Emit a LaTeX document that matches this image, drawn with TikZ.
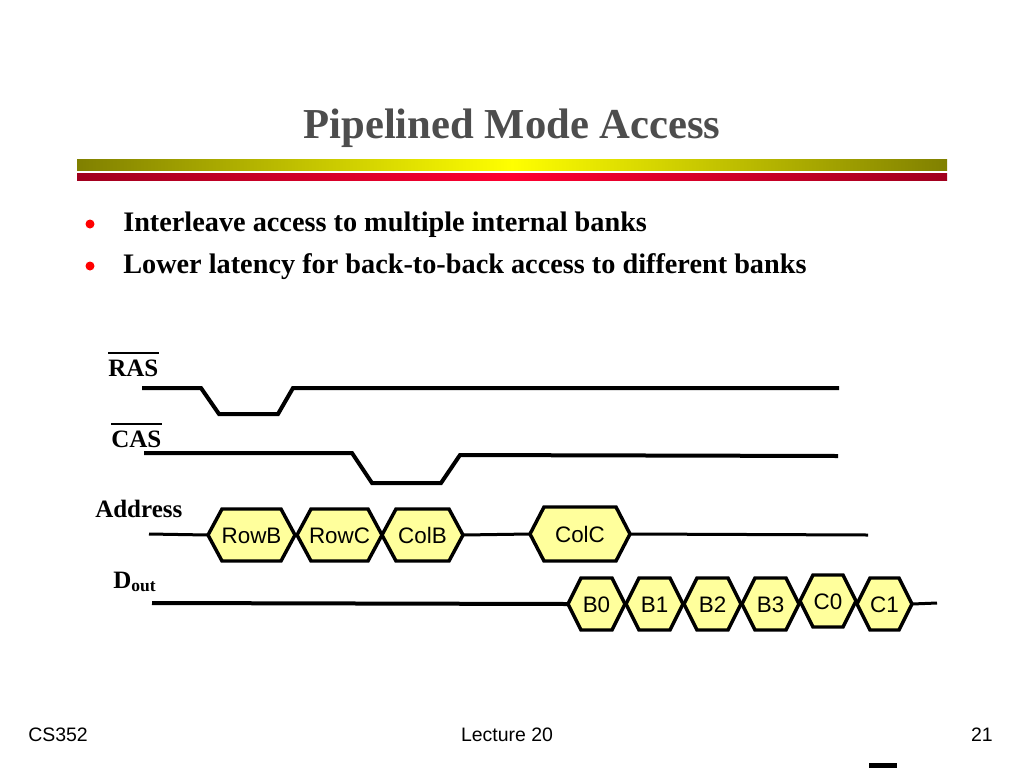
\documentclass[tikz,border=0pt]{standalone}
\usepackage{fontspec}
\setmainfont{Liberation Serif}
\setsansfont{Liberation Sans}
\usepackage{tikz}
\usetikzlibrary{calc}
\definecolor{barolive}{RGB}{128,128,0}
\definecolor{baryellow}{RGB}{255,255,0}
\definecolor{bardark}{RGB}{160,0,30}
\definecolor{barred}{RGB}{255,0,48}
\definecolor{hexfill}{RGB}{255,255,156}
\definecolor{titlegray}{RGB}{77,77,77}
\newcommand{\sigfont}{\fontsize{18.75}{22}\selectfont\bfseries}
\newcommand{\hexfont}{\fontsize{16.8}{20}\selectfont\sffamily}
% hexagon on a bus line: name, left tip, right tip, centre y, half height, tip offset, text
\newcommand{\bushex}[7]{%
	\draw[hexbox] (#2,#4) -- (#2+#6,#4-#5) -- (#3-#6,#4-#5) -- (#3,#4) -- (#3-#6,#4+#5) -- (#2+#6,#4+#5) -- cycle;
	\coordinate (#1-w) at (#2,#4);
	\coordinate (#1-e) at (#3,#4);
	\node[hextext] (#1) at ({(#2+#3)/2},#4+8) {#7};}

\begin{document}
\begin{tikzpicture}[x=0.75pt,y=-0.75pt,
	sig/.style={line width=3pt},
	bus/.style={line width=2.25pt},
	hexbox/.style={draw=black,fill=hexfill,line width=2.6pt,line join=miter},
	hextext/.style={inner sep=0pt,anchor=base,font=\hexfont},
	siglabel/.style={inner sep=0pt,anchor=base west,font=\sigfont},
	bar/.style={line width=1.5pt}]
	\useasboundingbox (0,0) rectangle (1024,768);
	% title and bars
	\node[anchor=base,text=titlegray,font=\fontsize{32}{36}\selectfont\bfseries] (title) at (512,138) {Pipelined Mode Access};
	\shade[left color=barolive,right color=barolive,middle color=baryellow] (77,159) rectangle (947,170);
	\shade[left color=bardark,right color=bardark,middle color=barred] (77,173) rectangle (947,180);
	% bullets
	\fill[red] (90,224) circle (4.5);
	\fill[red] (90,266) circle (4.5);
	\node[anchor=base west,inner sep=0pt,font=\fontsize{21.2}{25}\selectfont\bfseries] (item1) at (123,231) {Interleave access to multiple internal banks};
	\node[anchor=base west,inner sep=0pt,font=\fontsize{21.2}{25}\selectfont\bfseries] (item2) at (123,273) {Lower latency for back-to-back access to different banks};
	% signal names
	\node[siglabel] (ras) at (108,376) {RAS};
	\draw[bar] ([yshift=5pt]ras.north west) -- ([yshift=5pt]ras.north east);
	\node[siglabel] (cas) at (111,447) {CAS};
	\draw[bar] ([yshift=5pt]cas.north west) -- ([yshift=5pt]cas.north east);
	\node[siglabel] (addr) at (95,517) {Address};
	\node[siglabel] (dout) at (113,588) {D\textsubscript{out}};
	% RAS and CAS
	\draw[sig] (142,388) -- (201,388) -- (219,414) -- (278,414) -- (293,388) -- (839,388);
	\draw[sig] (144,453) -- (352,453) -- (372,483) -- (441,483) -- (460,455) -- (838,456);
	% address bus
	\coordinate (addr-start) at (149,534);
	\coordinate (addr-end) at (868,535);
	\bushex{rowb}{208}{295}{535}{26}{14}{RowB}
	\bushex{rowc}{297}{382}{535}{26}{14}{RowC}
	\bushex{colb}{382}{463}{535}{26}{14}{ColB}
	\bushex{colc}{530}{630}{534}{27}{14}{ColC}
	\draw[bus] (addr-start) -- (rowb-w);
	\draw[bus] (colb-e) -- (colc-w);
	\draw[bus] (colc-e) -- (addr-end);
	% data out
	\coordinate (dout-start) at (152,603);
	\coordinate (dout-end) at (937,603);
	\bushex{b0}{568}{625}{604}{26}{13}{B0}
	\bushex{b1}{626}{683}{604}{26}{13}{B1}
	\bushex{b2}{684}{741}{604}{26}{13}{B2}
	\bushex{b3}{742}{799}{604}{26}{13}{B3}
	\bushex{c0}{800}{856}{601}{26}{13}{C0}
	\bushex{c1}{857}{912}{604}{26}{13}{C1}
	\draw[sig] (dout-start) -- (b0-w);
	\draw[bus] (c1-e) -- (dout-end);
	% footer
	\node[anchor=base west,inner sep=0pt,font=\fontsize{14.6}{17}\selectfont\sffamily] (course) at (28,741) {CS352};
	\node[anchor=base,inner sep=0pt,font=\fontsize{14.6}{17}\selectfont\sffamily] (lecture) at (507,741) {Lecture 20};
	\node[anchor=base east,inner sep=0pt,font=\fontsize{14.6}{17}\selectfont\sffamily] (page) at (993,741) {21};
	\fill (869,763) rectangle (897,768);
\end{tikzpicture}
\end{document}
